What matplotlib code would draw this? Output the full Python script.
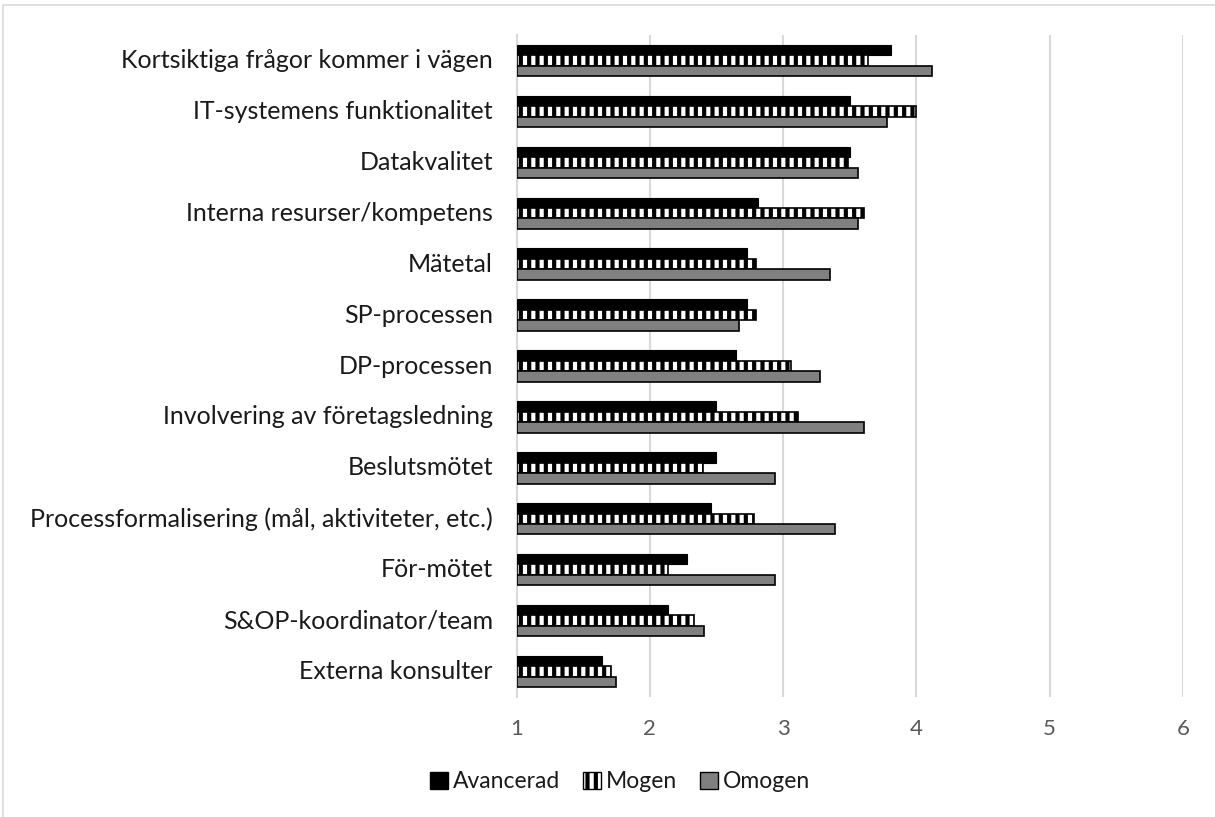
import matplotlib
matplotlib.use("Agg")
import matplotlib.pyplot as plt
from matplotlib.patches import Rectangle, Patch
import numpy as np

categories = [
    "Kortsiktiga frågor kommer i vägen",
    "IT-systemens funktionalitet",
    "Datakvalitet",
    "Interna resurser/kompetens",
    "Mätetal",
    "SP-processen",
    "DP-processen",
    "Involvering av företagsledning",
    "Beslutsmötet",
    "Processformalisering (mål, aktiviteter, etc.)",
    "För-mötet",
    "S&OP-koordinator/team",
    "Externa konsulter",
]
avancerad = [3.81, 3.50, 3.50, 2.81, 2.73, 2.73, 2.65, 2.50, 2.50, 2.46, 2.28, 2.14, 1.64]
mogen     = [3.64, 4.00, 3.49, 3.61, 2.80, 2.80, 3.06, 3.11, 2.40, 2.78, 2.14, 2.33, 1.71]
omogen    = [4.12, 3.78, 3.56, 3.56, 3.35, 2.67, 3.28, 3.61, 2.94, 3.39, 2.94, 2.41, 1.75]
x_ticks = [1, 2, 3, 4, 5, 6]
series_names = ["Avancerad", "Mogen", "Omogen"]

plt.rcParams["font.family"] = ["Lato", "DejaVu Sans"]
plt.rcParams["hatch.linewidth"] = 3.0

W, H = 1215, 817
fig = plt.figure(figsize=(W / 100, H / 100), dpi=100)
ax = fig.add_axes([516.5 / W, 1 - 697 / H, (1183 - 516.5) / W, (697 - 35) / H])

# outer chart border (extends past the right and bottom edges)
fig.patches.append(Rectangle((3 / W, -0.1), 1.2, 1 - 5 / H + 0.1, transform=fig.transFigure,
                             fill=False, edgecolor="#d9d9d9", linewidth=1.2))

y = np.arange(len(categories))
h = 0.205
base = 1.0
ax.barh(y - h, np.array(avancerad) - base, left=base, height=h, color="black",
        edgecolor="black", linewidth=0.8, zorder=3)
ax.barh(y, np.array(mogen) - base, left=base, height=h, color="white",
        edgecolor="black", hatch="||", linewidth=1.2, zorder=3)
ax.barh(y + h, np.array(omogen) - base, left=base, height=h, color="#808080",
        edgecolor="black", linewidth=1.2, zorder=3)

ax.set_xlim(1, 6)
ax.set_ylim(len(categories) - 0.5, -0.5)
ax.set_xticks(x_ticks)
ax.set_xticklabels([str(t) for t in x_ticks])
ax.set_yticks(y)
ax.set_yticklabels(categories)
ax.xaxis.grid(True, color="#d9d9d9", linewidth=1.5, zorder=0)
ax.set_axisbelow(True)
for s in ["top", "right", "bottom"]:
    ax.spines[s].set_visible(False)
ax.spines["left"].set_color("#d9d9d9")
ax.spines["left"].set_linewidth(1.5)
ax.tick_params(axis="both", length=0)
ax.tick_params(axis="x", labelsize=16, labelcolor="#595959", pad=16)
ax.tick_params(axis="y", labelsize=18, labelcolor="#1a1a1a", pad=17)
for lbl in ax.get_yticklabels():
    lbl.set_va("center")

handles = [
    Patch(facecolor="black", edgecolor="black", label=series_names[0]),
    Patch(facecolor="white", edgecolor="black", hatch="||", label=series_names[1]),
    Patch(facecolor="#808080", edgecolor="black", label=series_names[2]),
]
fig.legend(handles=handles, loc="center", bbox_to_anchor=(620 / W, 1 - 782 / H), ncol=3,
           frameon=False, fontsize=16.5, handlelength=0.8, handleheight=0.8,
           handletextpad=0.2, columnspacing=1.0, labelcolor="#1a1a1a")

fig.savefig("out.png", dpi=100)
